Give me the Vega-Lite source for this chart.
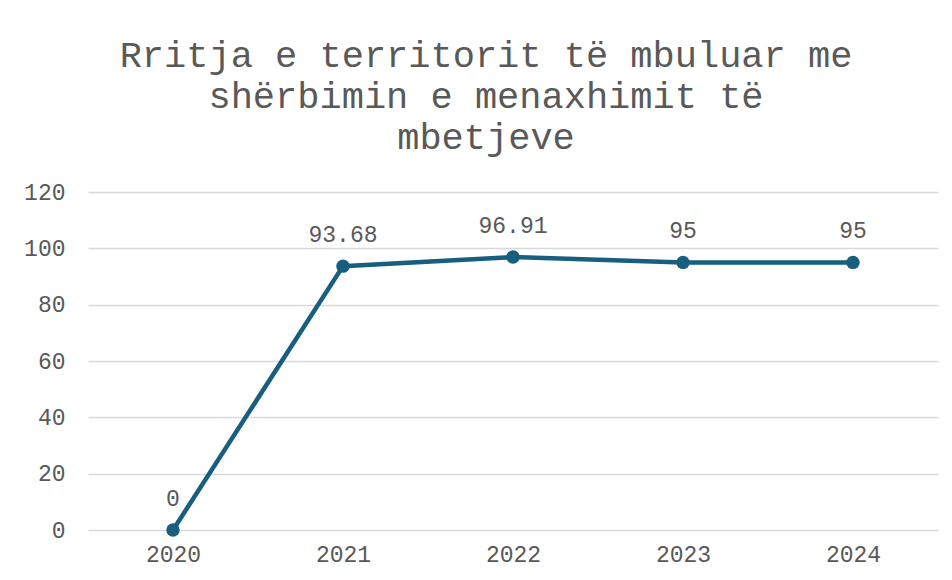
{
  "$schema": "https://vega.github.io/schema/vega-lite/v6.json",
  "width": 850,
  "height": 338,
  "autosize": {"type": "none"},
  "padding": {"left": 88, "top": 192, "right": 14, "bottom": 50},
  "background": "white",
  "config": {"view": {"stroke": null}},
  "title": {
    "text": ["Rritja e territorit të mbuluar me", "shërbimin e menaxhimit të", "mbetjeve"],
    "font": "Liberation Mono",
    "fontSize": 37,
    "fontWeight": "normal",
    "color": "#595959",
    "anchor": "middle",
    "frame": "group",
    "dx": -27,
    "lineHeight": 41,
    "offset": 24
  },
  "data": {
    "values": [
      {"year": "2020", "value": 0},
      {"year": "2021", "value": 93.68},
      {"year": "2022", "value": 96.91},
      {"year": "2023", "value": 95},
      {"year": "2024", "value": 95}
    ]
  },
  "encoding": {
    "x": {
      "field": "year",
      "type": "ordinal",
      "scale": {"type": "point", "padding": 0.5},
      "axis": {
        "title": null,
        "labelAngle": 0,
        "domain": false,
        "ticks": false,
        "grid": false,
        "labelPadding": 13,
        "labelFont": "Liberation Mono",
        "labelFontSize": 23,
        "labelColor": "#595959"
      }
    },
    "y": {
      "field": "value",
      "type": "quantitative",
      "scale": {"domain": [0, 120], "nice": false},
      "axis": {
        "title": null,
        "values": [0, 20, 40, 60, 80, 100, 120],
        "domain": false,
        "ticks": false,
        "grid": true,
        "gridColor": "#d9d9d9",
        "gridWidth": 1.3,
        "labelPadding": 23,
        "labelFont": "Liberation Mono",
        "labelFontSize": 23,
        "labelColor": "#595959"
      }
    }
  },
  "layer": [
    {"mark": {"type": "line", "color": "#175E7F", "strokeWidth": 4.5}},
    {"mark": {"type": "point", "filled": true, "size": 180, "opacity": 1, "color": "#175E7F"}},
    {
      "mark": {"type": "text", "dy": -24, "baseline": "alphabetic", "font": "Liberation Mono", "fontSize": 23, "color": "#595959"},
      "encoding": {"text": {"field": "value", "type": "quantitative"}}
    }
  ]
}
